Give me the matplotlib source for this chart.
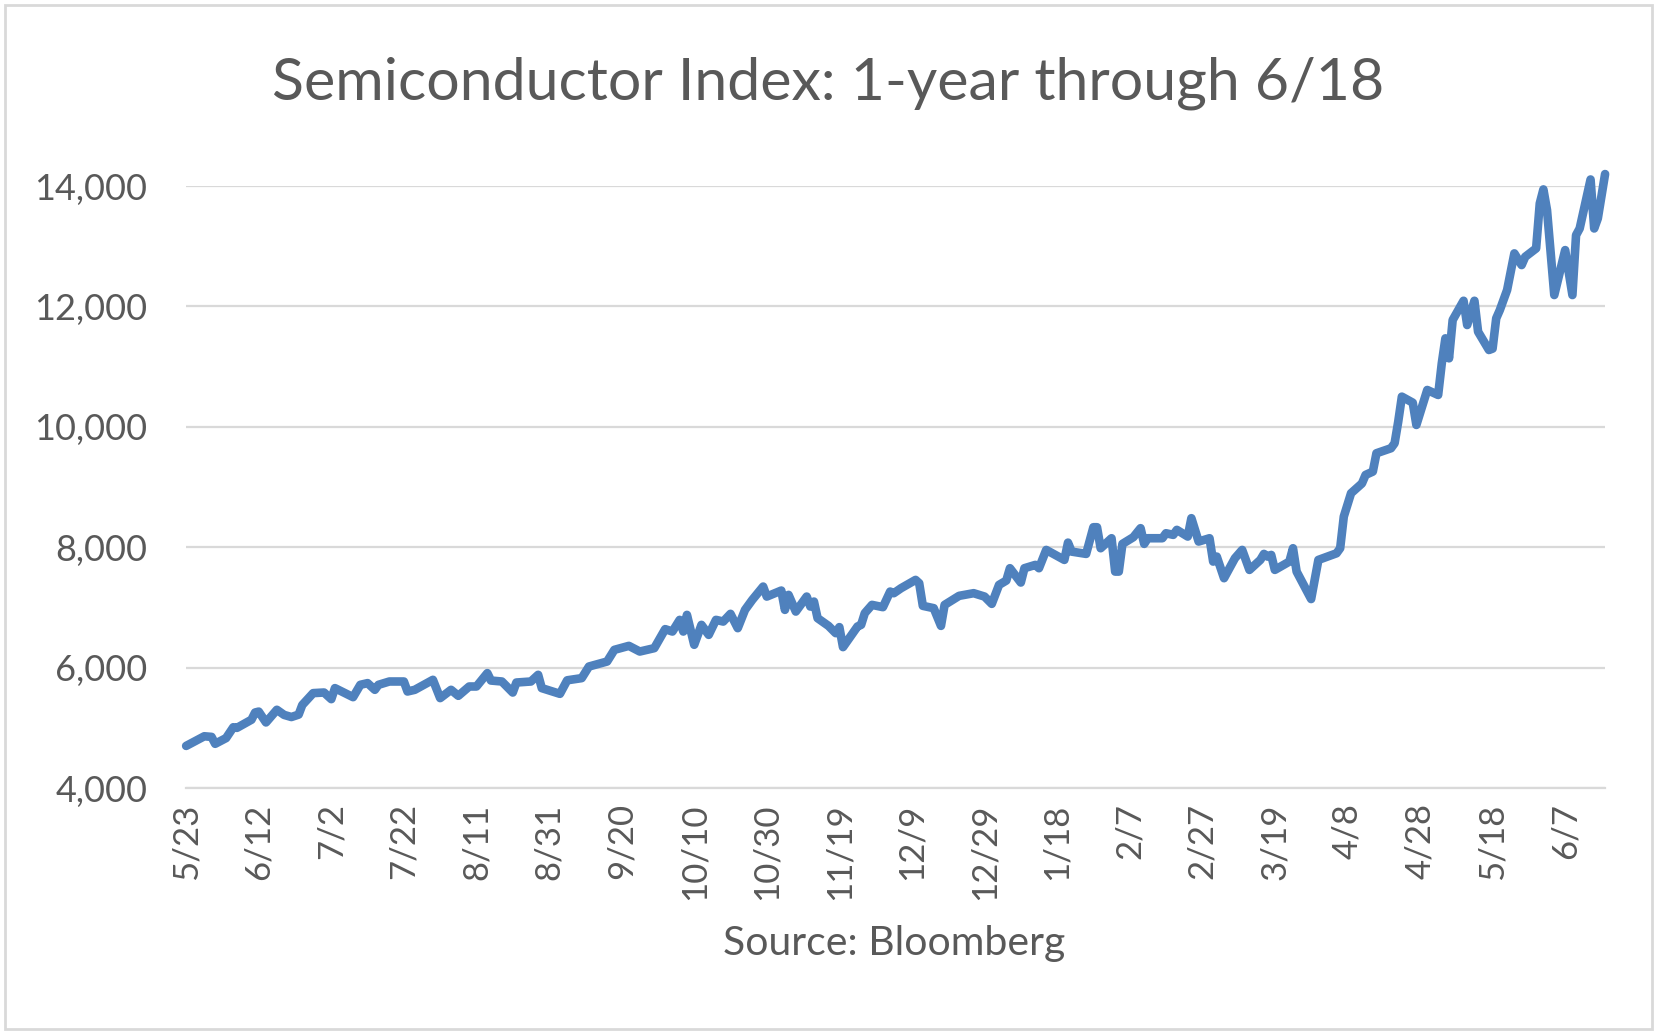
import datetime as dt
import matplotlib
matplotlib.use("Agg")
import matplotlib.pyplot as plt
from matplotlib.patches import Rectangle

plt.rcParams['font.family'] = ['Lato', 'DejaVu Sans']

start = dt.date(2024, 5, 23)
end = dt.date(2025, 6, 18)

# days after 5/23 and index level
days = [0, 5, 7, 8, 11, 13, 14, 18, 19, 20, 22, 25, 27, 29, 31, 32, 35, 38, 40, 41,
        46, 48, 50, 52, 53, 56, 60, 61, 63, 68, 70, 73, 75, 78, 80, 83, 84, 87, 90, 91,
        95, 97, 98, 103, 105, 109, 111, 116, 118, 122, 125, 129, 132, 134, 136, 137, 138, 140, 142, 144,
        146, 148, 150, 152, 154, 156, 159, 160, 164, 165, 166, 168, 171, 172, 173, 174, 177, 179, 180, 181,
        185, 186, 187, 189, 192, 194, 195, 197, 201, 202, 203, 206, 208, 209, 213, 217, 220, 222, 224, 226,
        227, 230, 231, 234, 235, 237, 242, 243, 244, 248, 250, 251, 252, 255, 256, 257, 258, 261, 263, 264,
        265, 269, 270, 272, 273, 276, 277, 279, 282, 283, 284, 286, 289, 291, 293, 296, 297, 298, 299, 300,
        304, 305, 306, 310, 312, 317, 318, 319, 321, 324, 325, 327, 328, 332, 333, 334, 335, 338, 339, 342,
        345, 346, 347, 348, 349, 352, 353, 355, 356, 359, 360, 361, 362, 364, 366, 368, 369, 372, 373, 374,
        375, 377, 380, 382, 383, 384, 387, 388, 389, 391]
values = [4700, 4860, 4850, 4735, 4830, 5010, 5000, 5135, 5255, 5270, 5090, 5300, 5215, 5180, 5220, 5380, 5577, 5587, 5477, 5660,
          5510, 5715, 5743, 5632, 5715, 5770, 5770, 5604, 5632, 5798, 5494, 5632, 5532, 5687, 5687, 5909, 5786, 5770, 5587, 5753,
          5770, 5881, 5660, 5565, 5790, 5826, 6019, 6102, 6296, 6362, 6268, 6324, 6640, 6600, 6794, 6600, 6877, 6380, 6711, 6545,
          6794, 6766, 6894, 6656, 6960, 7126, 7347, 7181, 7281, 6960, 7209, 6932, 7181, 7015, 7098, 6822, 6694, 6573, 6673, 6341,
          6684, 6711, 6905, 7043, 7005, 7264, 7237, 7320, 7458, 7403, 7027, 6988, 6694, 7043, 7193, 7237, 7181, 7060, 7375, 7447,
          7652, 7414, 7652, 7707, 7652, 7956, 7790, 8077, 7928, 7890, 8333, 8333, 7984, 8150, 7596, 7596, 8056, 8167, 8317, 8056,
          8150, 8150, 8233, 8206, 8289, 8178, 8483, 8095, 8150, 7762, 7845, 7486, 7818, 7956, 7624, 7790, 7890, 7845, 7873, 7624,
          7762, 7984, 7596, 7140, 7790, 7900, 7984, 8510, 8898, 9060, 9202, 9257, 9562, 9645, 9728, 10087, 10502, 10402, 10032, 10613,
          10530, 11056, 11471, 11139, 11775, 12095, 11692, 12095, 11581, 11277, 11300, 11803, 11941, 12273, 12882, 12688, 12826, 12965, 13712, 13945,
          13601, 12190, 12937, 12190, 13185, 13296, 14110, 13296, 13463, 14200]

y_ticks = [4000, 6000, 8000, 10000, 12000, 14000]
title = "Semiconductor Index: 1-year through 6/18"
source = "Source: Bloomberg"

dates = [start + dt.timedelta(days=d) for d in days]
x_ticks = [start + dt.timedelta(days=20 * k) for k in range(20)]

grey = "#595959"
fig = plt.figure(figsize=(16.59, 10.35), dpi=100)
ax = fig.add_axes([0.1122, 0.2386, 0.8553, 0.5816])

ax.plot(dates, values, color="#4F81BD", lw=6.2, solid_joinstyle="round",
        solid_capstyle="round", clip_on=False, zorder=3)

ax.set_xlim(start, end)
ax.set_ylim(4000, 14000)
ax.set_yticks(y_ticks)
ax.set_yticklabels([f"{v:,}" for v in y_ticks])
ax.set_xticks(x_ticks)
ax.set_xticklabels([f"{d.month}/{d.day}" for d in x_ticks], rotation=90)
ax.grid(axis="y", color="#D9D9D9", lw=1.6)
ax.set_axisbelow(True)
for s in ["top", "right", "left"]:
    ax.spines[s].set_visible(False)
ax.spines["bottom"].set_color("#D9D9D9")
ax.spines["bottom"].set_linewidth(1.6)
ax.tick_params(axis="both", length=0, colors=grey)
ax.tick_params(axis="y", pad=28, labelsize=26)
ax.tick_params(axis="x", pad=11, labelsize=25)

fig.text(0.499, 0.9034, title, ha="center", va="baseline", fontsize=42.5, color=grey)
fig.text(0.539, 0.0773, source, ha="center", va="baseline", fontsize=29.5, color=grey)

fig.patches.append(Rectangle((0.003, 0.006), 0.993, 0.989, transform=fig.transFigure,
                             fill=False, edgecolor="#D9D9D9", lw=2))

fig.savefig("out.png", dpi=100)
